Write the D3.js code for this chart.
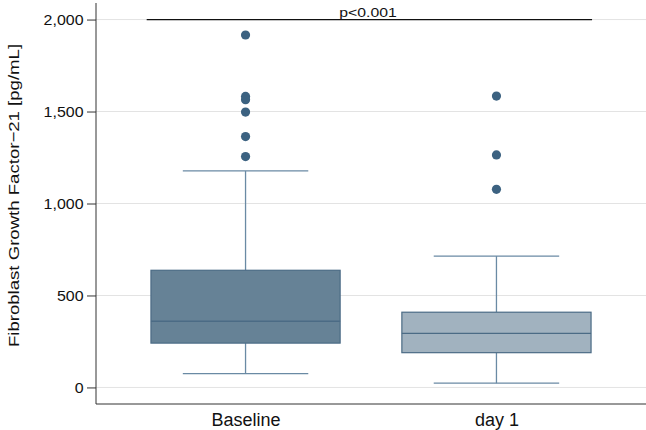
<!DOCTYPE html>
<html>
<head>
<meta charset="utf-8">
<script src="https://cdn.jsdelivr.net/npm/d3@7"></script>
<style>
  body { margin: 0; background: #fff; }
  text { font-family: "Liberation Sans", Arial, Helvetica, sans-serif; fill: #111; }
</style>
</head>
<body>
<div id="chart"></div>
<script>
// groups and the five-number summaries
var groups = ["Baseline", "day 1"];
var lowWhisker = [75, 23];
var q1 = [241, 189];
var median = [360, 294];
var q3 = [637, 409];
var highWhisker = [1177, 714];
var outliers = [
  [1916, 1582, 1564, 1497, 1364, 1255],
  [1584, 1264, 1077]
];
var yTicks = [0, 500, 1000, 1500, 2000];
var pText = "p<0.001";
var pLevel = 2000;

var fills = ["#668296", "#a1b2bf"];
var boxStroke = "#4b6b85";
var whiskerColor = "#6a8aa4";
var dotColor = "#3c6281";

var svgWidth = 646, svgHeight = 430;
var margin = { top: 3, right: 0, bottom: 26, left: 96 };
var width = svgWidth - margin.left - margin.right;
var height = svgHeight - margin.top - margin.bottom;

var svg = d3.select("#chart").append("svg")
  .attr("width", svgWidth)
  .attr("height", svgHeight);

var g = svg.append("g")
  .attr("transform", `translate(${margin.left}, ${margin.top})`);

var x = d3.scalePoint().domain(groups).range([0, width]).padding(0.596);
var step = x.step();

var y = d3.scaleLinear().domain([-90, 2090]).range([height, 0]);

// gridlines
g.selectAll(".grid").data(yTicks).enter().append("line")
  .attr("x1", 0).attr("x2", width)
  .attr("y1", d => y(d)).attr("y2", d => y(d))
  .attr("stroke", "#e3e3e3").attr("stroke-width", 1);

// y axis (text a bit wider than normal, like the original)
var stretch = 1.1;
var yAxis = g.append("g")
  .call(d3.axisLeft(y).tickValues(yTicks).tickSize(9).tickPadding(3).tickFormat(d3.format(",")));
yAxis.select(".domain").attr("d", `M0,0V${height}`).attr("stroke", "#333");
yAxis.selectAll(".tick line").attr("stroke", "#333");
yAxis.selectAll(".tick text")
  .style("font-size", "14.5px").attr("fill", "#111")
  .attr("x", -12.5 / stretch)
  .attr("transform", `scale(${stretch},1)`);

// x axis
var xAxis = g.append("g")
  .attr("transform", `translate(0, ${height})`)
  .call(d3.axisBottom(x).tickSize(0).tickPadding(9));
xAxis.select(".domain").attr("d", `M0,0H${width}`).attr("stroke", "#333");
xAxis.selectAll(".tick text").style("font-size", "18px").attr("fill", "#111");

// y label
svg.append("text")
  .attr("transform", `translate(18.5, 195.5) rotate(-90) scale(1.2,1)`)
  .attr("text-anchor", "middle")
  .style("font-size", "15.5px")
  .text("Fibroblast Growth Factor\u221221 [pg/mL]");

// boxes
var boxes = g.selectAll(".box").data(groups).enter().append("g");

boxes.append("line")
  .attr("x1", d => x(d)).attr("x2", d => x(d))
  .attr("y1", (d, i) => y(lowWhisker[i])).attr("y2", (d, i) => y(q1[i]))
  .attr("stroke", whiskerColor).attr("stroke-width", 1.3);
boxes.append("line")
  .attr("x1", d => x(d)).attr("x2", d => x(d))
  .attr("y1", (d, i) => y(q3[i])).attr("y2", (d, i) => y(highWhisker[i]))
  .attr("stroke", whiskerColor).attr("stroke-width", 1.3);
[lowWhisker, highWhisker].forEach(function(arr) {
  boxes.append("line")
    .attr("x1", d => x(d) - step * 0.25).attr("x2", d => x(d) + step * 0.25)
    .attr("y1", (d, i) => y(arr[i])).attr("y2", (d, i) => y(arr[i]))
    .attr("stroke", whiskerColor).attr("stroke-width", 1.3);
});

boxes.append("rect")
  .attr("x", d => x(d) - step * 0.377)
  .attr("width", step * 0.754)
  .attr("y", (d, i) => y(q3[i]))
  .attr("height", (d, i) => y(q1[i]) - y(q3[i]))
  .attr("fill", (d, i) => fills[i])
  .attr("stroke", boxStroke).attr("stroke-width", 1.2);

boxes.append("line")
  .attr("x1", d => x(d) - step * 0.377).attr("x2", d => x(d) + step * 0.377)
  .attr("y1", (d, i) => y(median[i])).attr("y2", (d, i) => y(median[i]))
  .attr("stroke", boxStroke).attr("stroke-width", 1.4);

// outliers
groups.forEach(function(grp, i) {
  g.selectAll(".dot" + i).data(outliers[i]).enter().append("circle")
    .attr("cx", x(grp))
    .attr("cy", d => y(d))
    .attr("r", 4.6)
    .attr("fill", dotColor);
});

// significance line
g.append("line")
  .attr("x1", x(groups[0]) - step * 0.394)
  .attr("x2", x(groups[1]) + step * 0.381)
  .attr("y1", y(pLevel)).attr("y2", y(pLevel))
  .attr("stroke", "#111").attr("stroke-width", 1.3);
var px = (x(groups[0]) + x(groups[1])) / 2 - 3;
g.append("text")
  .attr("x", px / 1.17)
  .attr("y", y(pLevel) - 3)
  .attr("transform", "scale(1.17,1)")
  .attr("text-anchor", "middle")
  .style("font-size", "13.5px")
  .text(pText);
</script>
</body>
</html>
